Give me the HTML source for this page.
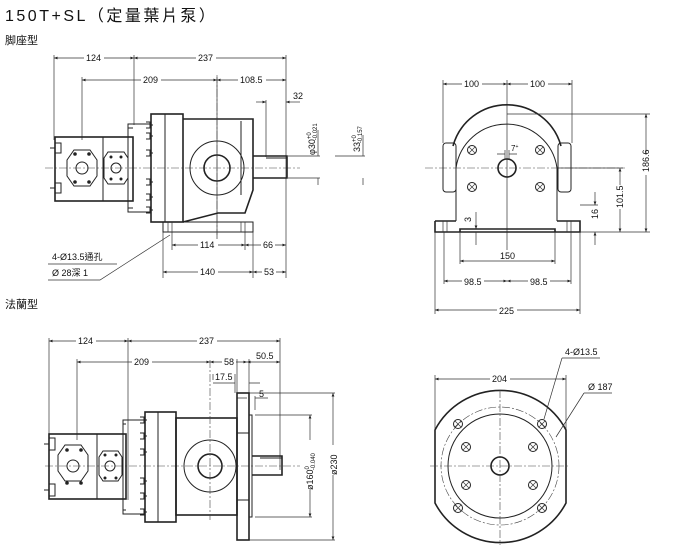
<!DOCTYPE html>
<html><head><meta charset="utf-8"><style>
body{margin:0;background:#fff;width:680px;height:546px;overflow:hidden}
svg{display:block}
text{font-family:"Liberation Sans","Noto Sans CJK TC",sans-serif;fill:#111}
.l{stroke:#222;stroke-width:1;fill:none}
.t{stroke:#222;stroke-width:1.6;fill:none}
.d{stroke:#333;stroke-width:0.7;fill:none}
.c{stroke:#444;stroke-width:0.6;fill:none;stroke-dasharray:8 2 2 2}
.f{font-size:9px}
</style></head><body>
<svg width="680" height="546" viewBox="0 0 680 546">
<defs>
<marker id="a" markerWidth="6" markerHeight="6" refX="5" refY="3" orient="auto-start-reverse"><path d="M0,1 L5,3 L0,5z" fill="#222"/></marker>
<g id="bolt"><circle r="4.5" class="l"/><path d="M-3,-3 L3,3 M-3,3 L3,-3" class="d"/></g>
<g id="hb"><path d="M0,-3 h4 v6 h-4 M4,0 h3" class="l"/></g>
</defs>
<text x="5" y="21" font-size="16" letter-spacing="2.5">150T+SL（定量葉片泵）</text>
<text x="5" y="44" font-size="11">脚座型</text>
<text x="5" y="308" font-size="11">法蘭型</text>

<!-- ===== TOP LEFT ===== -->
<g>
<path class="d" d="M54,55 V140 M134,55 V125 M286,55 V180 M82,77 V140 M217,77 V240 M266,100 V157 M163,232 V278 M172,232 V250 M245,232 V250 M253,232 V278 M286,180 V278"/>
<line class="d" x1="54" y1="58" x2="134" y2="58" marker-start="url(#a)" marker-end="url(#a)"/>
<line class="d" x1="134" y1="58" x2="286" y2="58" marker-start="url(#a)" marker-end="url(#a)"/>
<line class="d" x1="82" y1="80" x2="217" y2="80" marker-start="url(#a)" marker-end="url(#a)"/>
<line class="d" x1="217" y1="80" x2="286" y2="80" marker-start="url(#a)" marker-end="url(#a)"/>
<line class="d" x1="256" y1="102" x2="266" y2="102" marker-end="url(#a)"/>
<line class="d" x1="300" y1="102" x2="286" y2="102" marker-end="url(#a)"/>
<line class="d" x1="172" y1="245" x2="245" y2="245" marker-start="url(#a)" marker-end="url(#a)"/>
<line class="d" x1="245" y1="245" x2="286" y2="245" marker-start="url(#a)" marker-end="url(#a)"/>
<line class="d" x1="163" y1="272" x2="253" y2="272" marker-start="url(#a)" marker-end="url(#a)"/>
<line class="d" x1="253" y1="272" x2="286" y2="272" marker-start="url(#a)" marker-end="url(#a)"/>
<rect x="84" y="52" width="20" height="10" fill="#fff"/><text class="f" x="86" y="61">124</text>
<rect x="196" y="52" width="20" height="10" fill="#fff"/><text class="f" x="198" y="61">237</text>
<rect x="141" y="74" width="20" height="10" fill="#fff"/><text class="f" x="143" y="83">209</text>
<rect x="238" y="74" width="28" height="10" fill="#fff"/><text class="f" x="240" y="83">108.5</text>
<text class="f" x="293" y="99">32</text>
<rect x="198" y="239" width="20" height="10" fill="#fff"/><text class="f" x="200" y="248">114</text>
<rect x="261" y="239" width="14" height="10" fill="#fff"/><text class="f" x="263" y="248">66</text>
<rect x="198" y="266" width="20" height="10" fill="#fff"/><text class="f" x="200" y="275">140</text>
<rect x="262" y="266" width="14" height="10" fill="#fff"/><text class="f" x="264" y="275">53</text>
<path class="d" d="M288,156 H320 M288,178 H320 M318,130 V156 M318,178 V185 M335,156 H365 M363,135 V156 M363,178 V185"/>
<text class="f" transform="translate(315,155) rotate(-90)">φ30<tspan font-size="6" dy="-4">+0</tspan><tspan font-size="6" dx="-8" dy="6">-0.021</tspan></text>
<text class="f" transform="translate(360,152) rotate(-90)">33<tspan font-size="6" dy="-4">+0</tspan><tspan font-size="6" dx="-8" dy="6">-0.157</tspan></text>
<line class="c" x1="45" y1="168" x2="300" y2="168"/>
<rect class="t" x="55" y="137" width="78" height="64"/>
<line class="l" x1="103" y1="137" x2="103" y2="201"/>
<path class="l" d="M133,128 h-5 v-4 h22 M133,208 h-5 v4 h22 M128,128 V208"/>
<path class="l" d="M74,150 h16 l7,10 v16 l-7,10 h-16 l-7,-10 v-16z"/>
<circle class="l" cx="82" cy="168" r="6"/>
<path class="l" d="M108,152 h16 l4,6 v20 l-4,6 h-16 l-4,-6 v-20z"/>
<circle class="l" cx="116" cy="168" r="5"/>
<g fill="#222"><circle cx="75" cy="154" r="1.8"/><circle cx="89" cy="154" r="1.8"/><circle cx="75" cy="182" r="1.8"/><circle cx="89" cy="182" r="1.8"/><circle cx="111" cy="157" r="1.5"/><circle cx="121" cy="157" r="1.5"/><circle cx="111" cy="179" r="1.5"/><circle cx="121" cy="179" r="1.5"/></g>
<path class="l" d="M55,143 h6 v10 h-6 M55,183 h6 v10 h-6 M50,148 h5 M50,188 h5"/>
<rect class="t" x="151" y="114" width="32" height="108"/>
<line class="l" x1="165" y1="114" x2="165" y2="222"/>
<g><use href="#hb" transform="translate(146,125)"/><use href="#hb" transform="translate(146,136)"/><use href="#hb" transform="translate(146,153)"/><use href="#hb" transform="translate(146,182)"/><use href="#hb" transform="translate(146,197)"/><use href="#hb" transform="translate(146,210)"/></g>
<path class="t" d="M183,119 H253 V190 L245,213 L218,213 L183,222"/>
<line class="l" x1="241" y1="121" x2="241" y2="195"/>
<circle class="l" cx="217" cy="168" r="27"/>
<circle class="t" cx="217" cy="168" r="13"/>
<path class="t" d="M253,156 H287 V178 H253"/>
<line class="l" x1="266" y1="158" x2="287" y2="158"/>
<rect class="l" x="163" y="222" width="90" height="10"/>
<path class="d" d="M168,222 v10 M172,222 v10 M241,222 v10 M245,222 v10"/>
<line class="c" x1="217" y1="75" x2="217" y2="235"/>
<text class="f" x="52" y="260">4-Ø13.5通孔</text>
<text class="f" x="52" y="276">Ø 28深 1</text>
<path class="d" d="M48,264 H117 M48,280 H100 L170,235"/>
</g>

<!-- ===== BOTTOM LEFT ===== -->
<g>
<path class="d" d="M49,338 V440 M128,338 V500 M280,338 V470 M77,359 V440 M237,359 V395 M249,359 V395 M255,396 V410 M213,374 V380 M235,374 V393"/>
<line class="d" x1="49" y1="341" x2="128" y2="341" marker-start="url(#a)" marker-end="url(#a)"/>
<line class="d" x1="128" y1="341" x2="280" y2="341" marker-start="url(#a)" marker-end="url(#a)"/>
<line class="d" x1="77" y1="362" x2="210" y2="362" marker-start="url(#a)" marker-end="url(#a)"/>
<line class="d" x1="210" y1="362" x2="247" y2="362" marker-start="url(#a)" marker-end="url(#a)"/>
<line class="d" x1="247" y1="362" x2="280" y2="362" marker-start="url(#a)" marker-end="url(#a)"/>
<path class="d" d="M213,383 H235 M249,383 H260 M237,398 H247 M255,398 H268"/>
<rect x="76" y="335" width="20" height="10" fill="#fff"/><text class="f" x="78" y="344">124</text>
<rect x="197" y="335" width="20" height="10" fill="#fff"/><text class="f" x="199" y="344">237</text>
<rect x="132" y="356" width="20" height="10" fill="#fff"/><text class="f" x="134" y="365">209</text>
<rect x="222" y="356" width="14" height="10" fill="#fff"/><text class="f" x="224" y="365">58</text>
<text class="f" x="256" y="359">50.5</text>
<text class="f" x="215" y="380">17.5</text>
<text class="f" x="259" y="397">5</text>
<path class="d" d="M255,415 H312 M255,517 H312 M249,393 H335 M249,540 H335"/>
<line class="d" x1="310" y1="415" x2="310" y2="517" marker-start="url(#a)" marker-end="url(#a)"/>
<line class="d" x1="333" y1="393" x2="333" y2="540" marker-start="url(#a)" marker-end="url(#a)"/>
<rect x="303" y="440" width="14" height="50" fill="#fff"/>
<text class="f" transform="translate(313,490) rotate(-90)">ø160<tspan font-size="6" dy="-4">0</tspan><tspan font-size="6" dx="-4" dy="6">-0.040</tspan></text>
<rect x="326" y="445" width="14" height="30" fill="#fff"/>
<text class="f" transform="translate(337,475) rotate(-90)">ø230</text>
<line class="c" x1="45" y1="466" x2="300" y2="466"/>
<rect class="t" x="49" y="434" width="77" height="65"/>
<line class="l" x1="97" y1="434" x2="97" y2="499"/>
<path class="l" d="M126,424 h-3 v-4 h22 M126,510 h-3 v4 h22 M123,424 V510"/>
<path class="l" d="M65,445 h16 l7,10 v16 l-7,10 h-16 l-7,-10 v-16z"/>
<circle class="l" cx="73" cy="466" r="6"/>
<path class="l" d="M103,451 h15 l4,6 v18 l-4,6 h-15 l-4,-6 v-18z"/>
<circle class="l" cx="110" cy="466" r="5"/>
<g fill="#222"><circle cx="67" cy="450" r="1.8"/><circle cx="81" cy="450" r="1.8"/><circle cx="67" cy="483" r="1.8"/><circle cx="81" cy="483" r="1.8"/><circle cx="105" cy="455" r="1.5"/><circle cx="116" cy="455" r="1.5"/><circle cx="105" cy="478" r="1.5"/><circle cx="116" cy="478" r="1.5"/></g>
<path class="l" d="M49,438 h6 v12 h-6 M49,484 h6 v12 h-6 M44,444 h5 M44,490 h5"/>
<rect class="t" x="145" y="412" width="31" height="110"/>
<line class="l" x1="158" y1="412" x2="158" y2="522"/>
<g><use href="#hb" transform="translate(140,420)"/><use href="#hb" transform="translate(140,436)"/><use href="#hb" transform="translate(140,452)"/><use href="#hb" transform="translate(140,481)"/><use href="#hb" transform="translate(140,496)"/><use href="#hb" transform="translate(140,512)"/></g>
<rect class="t" x="176" y="418" width="61" height="97"/>
<circle class="l" cx="210" cy="466" r="26"/>
<circle class="t" cx="210" cy="466" r="12"/>
<rect class="t" x="237" y="393" width="12" height="147"/>
<path class="l" d="M237,433 H249 M237,500 H249"/>
<rect class="l" x="249" y="415" width="3" height="102"/>
<path class="t" d="M252,456 H282 V475 H252"/>
<line class="l" x1="260" y1="458" x2="282" y2="458"/>
<line class="c" x1="210" y1="360" x2="210" y2="520"/>
</g>

<!-- ===== TOP RIGHT ===== -->
<g>
<path class="d" d="M443,80 V143 M572,80 V143 M507,80 V250"/>
<line class="d" x1="443" y1="84" x2="507" y2="84" marker-start="url(#a)" marker-end="url(#a)"/>
<line class="d" x1="507" y1="84" x2="572" y2="84" marker-start="url(#a)" marker-end="url(#a)"/>
<rect x="462" y="78" width="20" height="10" fill="#fff"/><text class="f" x="464" y="87">100</text>
<rect x="528" y="78" width="20" height="10" fill="#fff"/><text class="f" x="530" y="87">100</text>
<line class="c" x1="425" y1="168" x2="625" y2="168"/>
<path class="t" d="M453,146 A56,56 0 0 1 561,146"/>
<path class="l" d="M456,221 V168 A51,51 0 0 1 557,168 V221"/>
<rect class="l" x="443" y="143" width="13" height="49" rx="3"/>
<rect class="l" x="558" y="143" width="13" height="49" rx="3"/>
<path class="t" d="M435,221 H456 M557,221 H580 V232 H435 V221 M460,232 v-3 h95 v3"/>
<path class="d" d="M443,221 v11 M447,221 v11 M567,221 v11 M571,221 v11"/>
<use href="#bolt" x="472" y="150"/><use href="#bolt" x="540" y="150"/><use href="#bolt" x="472" y="187"/><use href="#bolt" x="540" y="187"/>
<circle class="t" cx="507" cy="168" r="9"/>
<path class="d" d="M505,150 v9 M509,150 v9 M497,154 h8 M517,154 h-8"/>
<text x="511" y="151" font-size="8">7<tspan font-size="5" dy="-3">+</tspan></text>
<path class="d" d="M507,114 H650 M557,168 H623 M580,205 H598 M580,232 H650"/>
<line class="d" x1="646" y1="114" x2="646" y2="232" marker-start="url(#a)" marker-end="url(#a)"/>
<line class="d" x1="620" y1="168" x2="620" y2="232" marker-start="url(#a)" marker-end="url(#a)"/>
<line class="d" x1="595" y1="192" x2="595" y2="205" marker-end="url(#a)"/>
<line class="d" x1="595" y1="245" x2="595" y2="232" marker-end="url(#a)"/>
<line class="d" x1="476" y1="212" x2="476" y2="229" marker-end="url(#a)"/>
<line class="d" x1="476" y1="245" x2="476" y2="232"/>
<rect x="640" y="155" width="12" height="20" fill="#fff"/><text class="f" transform="translate(649,172) rotate(-90)">186.6</text>
<rect x="614" y="185" width="12" height="24" fill="#fff"/><text class="f" transform="translate(623,208) rotate(-90)">101.5</text>
<text class="f" transform="translate(598,219) rotate(-90)">16</text>
<text class="f" transform="translate(471,222) rotate(-90)">3</text>
<path class="d" d="M460,232 V264 M555,232 V264 M444,232 V284 M571,232 V284 M435,232 V314 M580,232 V314"/>
<line class="d" x1="460" y1="261" x2="555" y2="261" marker-start="url(#a)" marker-end="url(#a)"/>
<line class="d" x1="444" y1="281" x2="507" y2="281" marker-start="url(#a)" marker-end="url(#a)"/>
<line class="d" x1="507" y1="281" x2="571" y2="281" marker-start="url(#a)" marker-end="url(#a)"/>
<line class="d" x1="435" y1="310" x2="580" y2="310" marker-start="url(#a)" marker-end="url(#a)"/>
<text class="f" x="500" y="259">150</text>
<rect x="462" y="276" width="22" height="10" fill="#fff"/><text class="f" x="464" y="285">98.5</text>
<rect x="528" y="276" width="22" height="10" fill="#fff"/><text class="f" x="530" y="285">98.5</text>
<rect x="497" y="305" width="20" height="10" fill="#fff"/><text class="f" x="499" y="314">225</text>
</g>

<!-- ===== BOTTOM RIGHT ===== -->
<g>
<path class="d" d="M435,375 V430 M566,375 V430"/>
<line class="d" x1="435" y1="379" x2="566" y2="379" marker-start="url(#a)" marker-end="url(#a)"/>
<rect x="490" y="373" width="20" height="10" fill="#fff"/><text class="f" x="492" y="382">204</text>
<path class="t" d="M435,430 A74,74 0 0 1 566,430 V503 A74,74 0 0 1 435,503 Z"/>
<circle class="c" cx="500" cy="466" r="59"/>
<circle class="l" cx="500" cy="466" r="52"/>
<line class="c" x1="430" y1="466" x2="570" y2="466"/>
<line class="c" x1="500" y1="390" x2="500" y2="545"/>
<use href="#bolt" x="458" y="424"/><use href="#bolt" x="542" y="424"/><use href="#bolt" x="458" y="508"/><use href="#bolt" x="542" y="508"/>
<use href="#bolt" x="466" y="447"/><use href="#bolt" x="533" y="447"/><use href="#bolt" x="466" y="485"/><use href="#bolt" x="533" y="485"/>
<circle class="t" cx="500" cy="466" r="9"/>
<text class="f" x="565" y="355">4-Ø13.5</text>
<path class="d" d="M562,358 H600 M562,358 L544,419"/>
<text class="f" x="588" y="390">Ø 187</text>
<path class="d" d="M584,393 H612 M584,393 L556,437"/>
</g>
</svg>
</body></html>
